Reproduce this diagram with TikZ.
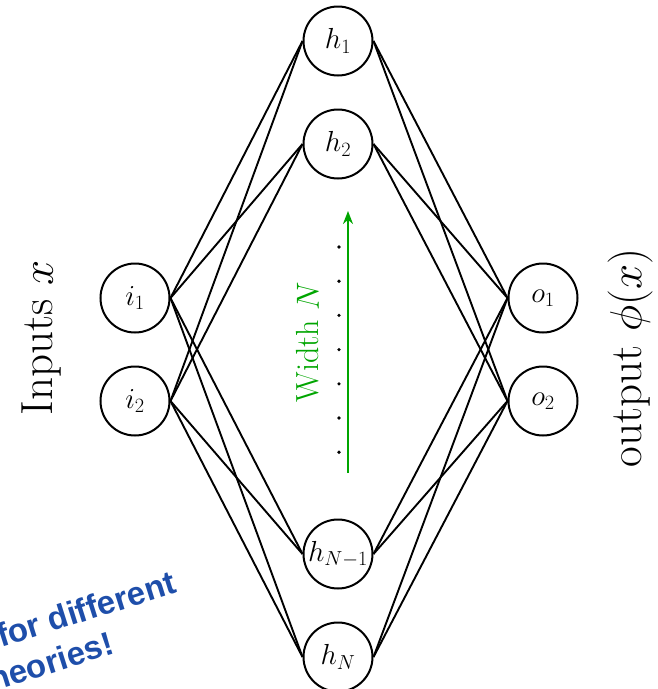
\RequirePackage{fix-cm}
\documentclass[tikz,border=0pt]{standalone}
\usepackage{fontspec}
\newfontfamily\notefont{Liberation Sans}
\usetikzlibrary{arrows.meta}
\definecolor{widthgreen}{RGB}{0,165,0}
\definecolor{noteblue}{RGB}{30,78,170}
\begin{document}
\begin{tikzpicture}[x=1pt,y=-1pt,
  neuron/.style={circle,draw,line width=2pt,minimum size=69pt,inner sep=0pt,
    font=\fontsize{29}{34}\selectfont},
  link/.style={line width=1.9pt},
  sidelabel/.style={rotate=90,font=\fontsize{45}{54}\selectfont},
  note/.style={rotate=17.5,anchor=base west,inner sep=0pt,text=noteblue,
    font=\notefont\bfseries\fontsize{33}{40}\selectfont}]
\useasboundingbox (0,0) rectangle (657,689);
\clip (0,0) rectangle (657,689);

% input layer
\node[neuron] (i1) at (135,298) {$i_1$};
\node[neuron] (i2) at (135,401) {$i_2$};
% hidden layer
\node[neuron] (h1)  at (338,41)  {$h_1$};
\node[neuron] (h2)  at (338,144) {$h_2$};
\node[neuron] (hN1) at (338,554) {$h_{N-1}$};
\node[neuron] (hN)  at (338,657) {$h_N$};
% output layer
\node[neuron] (o1) at (543,298) {$o_1$};
\node[neuron] (o2) at (543,401) {$o_2$};

% fully connected layers
\foreach \a in {i1,i2}
  \foreach \b in {h1,h2,hN1,hN}
    \draw[link] (\a.east) -- (\b.west);
\foreach \b in {h1,h2,hN1,hN}
  \foreach \c in {o1,o2}
    \draw[link] (\b.east) -- (\c.west);

% elided hidden units
\foreach \k in {0,...,6}
  \fill (339,247+34.2*\k) circle (1.8pt);

% width arrow
\coordinate (arrowfoot) at (348,473);
\coordinate (arrowtip) at (348,211);
\draw[widthgreen,line width=2.4pt,-{Stealth[length=13pt,width=10pt]}] (arrowfoot) -- (arrowtip);
\node[rotate=90,text=widthgreen,font=\fontsize{32}{38}\selectfont] (widthlabel) at (308,342) {Width $N$};

% side labels
\node[sidelabel] (inlabel) at (42,338) {Inputs $x$};
\node[sidelabel] (outlabel) at (630,358) {output $\phi(x)$};

% note
\node[note] (note1) at (1,648) {for different};
\node[note] (note2) at (-17.6,695) {theories!};
\end{tikzpicture}
\end{document}
